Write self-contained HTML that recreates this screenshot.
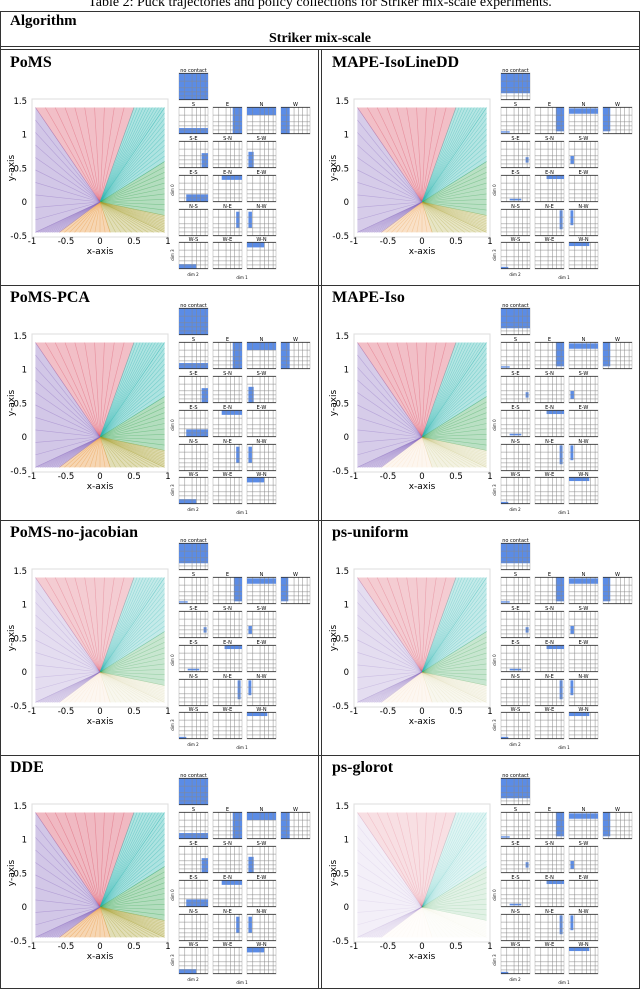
<!DOCTYPE html>
<html><head><meta charset="utf-8"><style>
html,body{margin:0;padding:0;background:#fff;}
svg{display:block;}
</style></head><body>
<svg id="page" width="640" height="991" xmlns="http://www.w3.org/2000/svg" font-family="Liberation Serif, serif">
<text x="320" y="6" text-anchor="middle" font-size="14">Table 2: Puck trajectories and policy collections for Striker mix-scale experiments.</text>
<g stroke="#333" stroke-width="1" fill="none">
<line x1="0.5" y1="11" x2="0.5" y2="988"/>
<line x1="639.5" y1="11" x2="639.5" y2="988"/>
<line x1="0" y1="11.5" x2="640" y2="11.5"/>
<line x1="0" y1="46.5" x2="640" y2="46.5"/>
<line x1="0" y1="49.5" x2="640" y2="49.5"/>
<line x1="0" y1="285.5" x2="640" y2="285.5"/>
<line x1="0" y1="520.5" x2="640" y2="520.5"/>
<line x1="0" y1="755.5" x2="640" y2="755.5"/>
<line x1="0" y1="988.5" x2="640" y2="988.5"/>
<line x1="318.5" y1="49" x2="318.5" y2="988"/>
<line x1="321.5" y1="49" x2="321.5" y2="988"/>
</g>
<text x="10" y="25" font-size="15" font-weight="bold">Algorithm</text>
<text x="320" y="42" text-anchor="middle" font-size="14" font-weight="bold">Striker mix-scale</text>
<g id="cells"></g>
</svg>
<script>
// ---- data ----
const algorithms = ["PoMS","MAPE-IsoLineDD","PoMS-PCA","MAPE-Iso","PoMS-no-jacobian","ps-uniform","DDE","ps-glorot"];
// sector densities: top-red, top-right-cyan, right-green, bottom-right-olive, bottom-orange, left-purple
const sectorDensity = [
 [0.5,0.55,0.55,0.5,0.55,0.55],
 [0.5,0.5,0.5,0.4,0.4,0.5],
 [0.5,0.55,0.55,0.5,0.55,0.55],
 [0.5,0.5,0.5,0.2,0.12,0.5],
 [0.4,0.4,0.4,0.12,0.1,0.33],
 [0.4,0.4,0.4,0.12,0.1,0.33],
 [0.55,0.55,0.55,0.5,0.55,0.55],
 [0.25,0.22,0.22,0.03,0.03,0.15]
];
const sectorColors = ["#d9485f","#2cb5b0","#3aa655","#a8a030","#e8943a","#8a6cc0"];
const xTicks = [-1,-0.5,0,0.5,1];
const xTickLabels = ["-1","-0.5","0","0.5","1"];
const yTicks = [1.5,1,0.5,0,-0.5];
const yTickLabels = ["1.5","1","0.5","0","-0.5"];
const panelNames = ["no contact","S","E","N","W","S-E","S-N","S-W","E-S","E-N","E-W","N-S","N-E","N-W","W-S","W-E","W-N"];
const fillsDefault = [[0,0,1,1],[0,.78,1,.22],[.68,0,.32,1],[0,0,1,.3],[0,0,.3,1],[.78,.45,.22,.55],null,[.05,.4,.18,.6],[.25,.72,.75,.28],[.3,0,.7,.18],null,null,[.8,.1,.12,.6],[.05,.1,.12,.6],[0,.82,.6,.18],null,[0,0,.6,.2]];
const fillsSparse = [[0,0,1,.75],[0,.9,.3,.05],[.72,0,.28,.9],[0,.05,1,.2],[0,0,.25,.9],[.85,.6,.1,.2],null,[.05,.55,.12,.3],[.3,.88,.4,.06],[.4,0,.6,.15],null,null,[.85,.05,.1,.7],[.05,.05,.1,.55],[0,.92,.25,.08],null,[0,0,.7,.15]];
const cellFills = [fillsDefault,fillsSparse,fillsDefault,fillsSparse,fillsSparse,fillsSparse,fillsDefault,fillsSparse];

// ---- drawing ----
const NS="http://www.w3.org/2000/svg";
const root=document.getElementById('cells');
function el(tag,attrs,parent){const e=document.createElementNS(NS,tag);for(const k in attrs)e.setAttribute(k,attrs[k]);(parent||root).appendChild(e);return e;}
const sectorPolys=[
 [[-0.95,1.4],[0.5,1.4]],
 [[0.5,1.4],[0.95,1.4],[0.95,0.6]],
 [[0.95,0.6],[0.95,-0.2]],
 [[0.95,-0.2],[0.95,-0.45],[0.15,-0.45]],
 [[0.15,-0.45],[-0.6,-0.45]],
 [[-0.6,-0.45],[-0.95,-0.45],[-0.95,1.4]]
];
algorithms.forEach((name,i)=>{
  const cx = (i%2)*322, cy = 50 + Math.floor(i/2)*235;
  const g=el('g',{transform:`translate(${cx},${cy})`});
  
  
  const t=el('text',{x:10,y:17,'font-size':16,'font-weight':'bold'},g);t.textContent=name;
  
  
  const X=v=>100+v*68, Y=v=>152-v*67.5;
  const plot=el('g',{},g);
  
  
  el('rect',{x:32,y:49,width:136,height:138,fill:'#fff',stroke:'#ddd'},plot);
  sectorDensity[i].forEach((d,s)=>{
    const pts=[[0,0],...sectorPolys[s]].map(p=>X(p[0])+','+Y(p[1])).join(' ');
    const p=el('polygon',{points:pts,fill:sectorColors[s],'fill-opacity':d*0.7},plot);
    
    
    const poly=sectorPolys[s];
    for(let k=0;k<poly.length-1;k++){
      for(let f=0;f<=1.001;f+=0.1){
        const ex=poly[k][0]+(poly[k+1][0]-poly[k][0])*f, ey=poly[k][1]+(poly[k+1][1]-poly[k][1])*f;
        el('line',{x1:X(0),y1:Y(0),x2:X(ex),y2:Y(ey),stroke:sectorColors[s],'stroke-opacity':d*0.8,'stroke-width':0.6},plot);
      }
    }
  });
  xTicks.forEach((v,k)=>{const tt=el('text',{x:X(v),y:194,'text-anchor':'middle','font-size':8.5,'font-family':'DejaVu Sans, sans-serif'},plot);tt.textContent=xTickLabels[k];
    });
  yTicks.forEach((v,k)=>{const tt=el('text',{x:27,y:Y(v)+3,'text-anchor':'end','font-size':8.5,'font-family':'DejaVu Sans, sans-serif'},plot);tt.textContent=yTickLabels[k];
    });
  const xl=el('text',{x:100,y:204,'text-anchor':'middle','font-size':9,'font-family':'DejaVu Sans, sans-serif'},plot);xl.textContent='x-axis';
  
  const yl=el('text',{x:0,y:0,'text-anchor':'middle','font-size':9,'font-family':'DejaVu Sans, sans-serif',transform:'translate(14,118) rotate(-90)'},plot);yl.textContent='y-axis';
  
  const grid=el('g',{},g);
  
  
  const cols=[179,213,247,281], rows=[23,57,91,125,159,192];
  const pos=[[0,0],[0,1],[1,1],[2,1],[3,1],[0,2],[1,2],[2,2],[0,3],[1,3],[2,3],[0,4],[1,4],[2,4],[0,5],[1,5],[2,5]];
  panelNames.forEach((pn,k)=>{
    const px=cols[pos[k][0]], py=rows[pos[k][1]], w=29, h=27;
    const pg=el('g',{},grid);
    
    
    el('rect',{x:px,y:py,width:w,height:h,fill:'#fff',stroke:'#bbb','stroke-width':0.6},pg);
    const fr=cellFills[i][k];
    if(fr) el('rect',{x:px+fr[0]*w,y:py+fr[1]*h,width:fr[2]*w,height:fr[3]*h,fill:'#5b8ce6'},pg);
    [.2,.45,.6,.75,.9].forEach(f=>el('line',{x1:px+f*w,y1:py,x2:px+f*w,y2:py+h,stroke:'#888','stroke-width':0.5},pg));
    [.3,.55,.7,.85].forEach(f=>el('line',{x1:px,y1:py+f*h,x2:px+w,y2:py+f*h,stroke:'#888','stroke-width':0.5},pg));
    el('line',{x1:px,y1:py+0.5,x2:px+w,y2:py+0.5,stroke:'#333','stroke-width':0.8},pg);
    el('line',{x1:px,y1:py+h-0.5,x2:px+w,y2:py+h-0.5,stroke:'#333','stroke-width':0.8},pg);
    const lt=el('text',{x:px+w/2,y:py-1,'text-anchor':'middle','font-size':5,'font-family':'DejaVu Sans, sans-serif'},pg);lt.textContent=pn;
  });
  const d0=el('text',{'font-size':4,'font-family':'DejaVu Sans, sans-serif','text-anchor':'middle',transform:'translate(174,140) rotate(-90)'},grid);d0.textContent='dim 0';
  const d3=el('text',{'font-size':4,'font-family':'DejaVu Sans, sans-serif','text-anchor':'middle',transform:'translate(174,205) rotate(-90)'},grid);d3.textContent='dim 3';
  const d2=el('text',{x:193,y:226,'font-size':4,'font-family':'DejaVu Sans, sans-serif','text-anchor':'middle'},grid);d2.textContent='dim 2';
  const d1=el('text',{x:242,y:229,'font-size':4,'font-family':'DejaVu Sans, sans-serif','text-anchor':'middle'},grid);d1.textContent='dim 1';
});
</script>
</body></html>
